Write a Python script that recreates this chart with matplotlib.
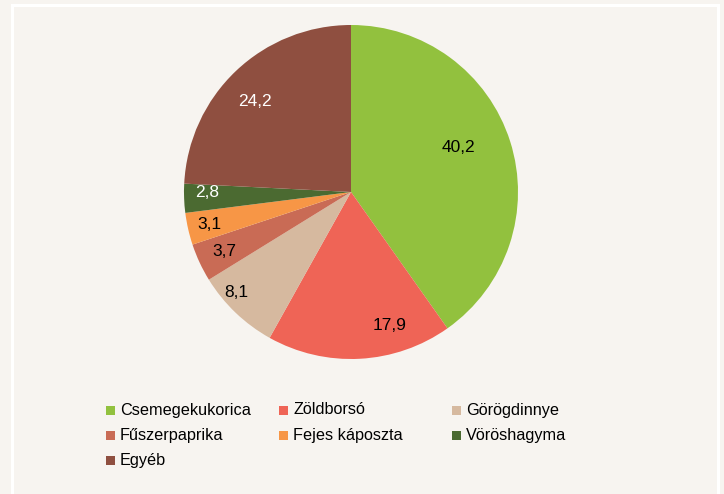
import matplotlib
matplotlib.use("Agg")
import numpy as np
from matplotlib import pyplot as plt
from matplotlib.patches import Rectangle

plt.rcParams['font.family'] = ['Liberation Sans', 'DejaVu Sans']

# data
categories = ['Csemegekukorica', 'Zöldborsó', 'Görögdinnye', 'Fűszerpaprika',
              'Fejes káposzta', 'Vöröshagyma', 'Egyéb']
values = [40.2, 17.9, 8.1, 3.7, 3.1, 2.8, 24.2]
colors = ['#92c13e', '#ef6456', '#d6b99f', '#c96b55', '#f79646', '#4b6a31', '#8f4f40']
label_colors = ['black', 'black', 'black', 'black', 'black', 'white', 'white']
label_dist = [0.70, 0.83, 0.91, 0.84, 0.87, 0.86, 0.79]
label_shift = [5, 13, -5, 0, 0, -2, 3]  # degrees

bg = '#f7f4f0'
fig = plt.figure(figsize=(7.24, 4.94), dpi=100)
fig.patch.set_facecolor(bg)

# white frame
frame = Rectangle((12 / 724, -0.05), (718 - 12) / 724, (494 - 5) / 494 + 0.05,
                  transform=fig.transFigure, fill=False, edgecolor='white', lw=2.2)
fig.patches.append(frame)

ax = fig.add_axes([184 / 724, 135 / 494, 334 / 724, 334 / 494])
ax.set_facecolor(bg)
wedges, _ = ax.pie(values, colors=colors, startangle=90, counterclock=False,
                   radius=1, wedgeprops=dict(linewidth=0))
ax.set_xlim(-1, 1)
ax.set_ylim(-1, 1)
ax.set_aspect('equal')
ax.axis('off')

for w, v, c, d, s in zip(wedges, values, label_colors, label_dist, label_shift):
    ang = np.deg2rad((w.theta1 + w.theta2) / 2 + s)
    ax.text(d * np.cos(ang), d * np.sin(ang), f"{v:.1f}".replace('.', ','),
            ha='center', va='center', color=c, fontsize=12.5)

# legend, three columns
col_x = [106, 279, 452]
row_y = [410, 435, 460]
for i, (name, col) in enumerate(zip(categories, colors)):
    x = col_x[i % 3]
    y = row_y[i // 3]
    fig.patches.append(Rectangle((x / 724, 1 - (y + 4.5) / 494), 9 / 724, 9 / 494,
                                 transform=fig.transFigure, facecolor=col, edgecolor='none'))
    fig.text((x + 14) / 724, 1 - y / 494, name, ha='left', va='center', fontsize=11.7)

fig.savefig('out.png', dpi=100, facecolor=fig.get_facecolor())
